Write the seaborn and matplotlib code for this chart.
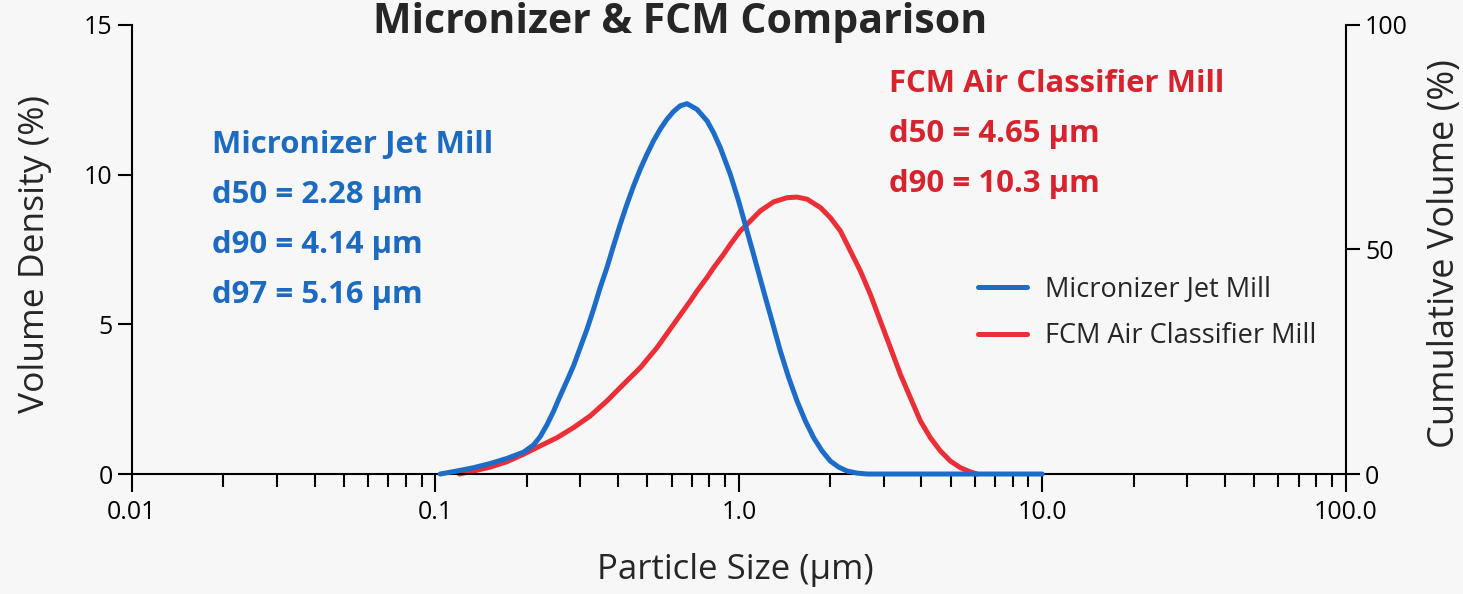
import numpy as np
import seaborn as sns
import matplotlib.pyplot as plt
from matplotlib.ticker import LogLocator, NullFormatter

# particle size (um) and volume density (%)
jet_size = [0.1037, 0.1177, 0.1335, 0.1515, 0.1720, 0.1952, 0.2106, 0.2216, 0.2331, 0.2450,
            0.2578, 0.2713, 0.2852, 0.3001, 0.3158, 0.3320, 0.3493, 0.3675, 0.3864, 0.4066,
            0.4278, 0.4498, 0.4733, 0.4980, 0.5236, 0.5509, 0.5796, 0.6095, 0.6412, 0.6747,
            0.7280, 0.7853, 0.8259, 0.8690, 0.9375, 0.9985, 1.0642, 1.1335, 1.2071, 1.2865,
            1.3703, 1.4599, 1.5556, 1.6570, 1.7651, 1.8812, 2.0040, 2.1339, 2.2743, 2.4537,
            2.6474, 10.0]
jet_density = [0.0, 0.10, 0.21, 0.35, 0.52, 0.73, 0.97, 1.25, 1.64, 2.09,
               2.61, 3.11, 3.61, 4.22, 4.83, 5.50, 6.23, 6.89, 7.62, 8.34,
               9.01, 9.62, 10.18, 10.68, 11.13, 11.52, 11.85, 12.11, 12.30, 12.37,
               12.18, 11.80, 11.40, 10.90, 10.01, 9.12, 8.12, 7.12, 6.11, 5.11,
               4.11, 3.22, 2.44, 1.77, 1.21, 0.77, 0.43, 0.23, 0.10, 0.03,
               0.0, 0.0]

fcm_size = [0.1200, 0.1335, 0.1515, 0.1720, 0.1952, 0.2216, 0.2514, 0.2852, 0.3238, 0.3675,
            0.4170, 0.4733, 0.5373, 0.6095, 0.6920, 0.7280, 0.7853, 0.8259, 0.8910, 0.9375,
            1.0115, 1.0642, 1.1773, 1.3023, 1.4423, 1.5556, 1.6786, 1.8571, 2.0040, 2.1613,
            2.3323, 2.5157, 2.7136, 2.9270, 3.1594, 3.4080, 3.6761, 3.9676, 4.2800, 4.6168,
            4.9832, 5.3760, 5.7994, 6.1023]
fcm_density = [0.0, 0.10, 0.23, 0.41, 0.66, 0.94, 1.21, 1.55, 1.94, 2.44,
               3.00, 3.55, 4.22, 5.00, 5.78, 6.11, 6.56, 6.89, 7.34, 7.67,
               8.12, 8.34, 8.79, 9.09, 9.23, 9.25, 9.18, 8.90, 8.56, 8.12,
               7.45, 6.78, 6.00, 5.11, 4.22, 3.33, 2.55, 1.77, 1.21, 0.77,
               0.43, 0.21, 0.07, 0.0]

x_ticks = [0.01, 0.1, 1, 10, 100]
x_ticklabels = ['0.01', '0.1', '1.0', '10.0', '100.0']
left_ticks = [0, 5, 10, 15]
right_ticks = [0, 50, 100]

jet_stats = ['Micronizer Jet Mill', 'd50 = 2.28 µm', 'd90 = 4.14 µm', 'd97 = 5.16 µm']
fcm_stats = ['FCM Air Classifier Mill', 'd50 = 4.65 µm', 'd90 = 10.3 µm']

blue = '#1c6cc8'
red = '#ec2f37'
blue_txt = '#1d6bc0'
red_txt = '#d6232e'
bg = '#f7f7f7'

sns.set_theme(style='ticks')
plt.rcParams['font.family'] = ['Open Sans', 'DejaVu Sans']

fig = plt.figure(figsize=(14.63, 5.94), dpi=100, facecolor=bg)
ax = fig.add_axes([0.0902, 0.202, 0.8296, 0.756])
ax.set_facecolor(bg)

sns.lineplot(x=jet_size, y=jet_density, ax=ax, color=blue, lw=3.6,
             label='Micronizer Jet Mill', zorder=3, clip_on=False,
             solid_joinstyle='round')
sns.lineplot(x=fcm_size, y=fcm_density, ax=ax, color=red, lw=3.6,
             label='FCM Air Classifier Mill', zorder=2, clip_on=False,
             solid_joinstyle='round')

ax.set_xscale('log')
ax.set_xlim(0.01, 100)
ax.set_ylim(0, 15)
ax.set_xticks(x_ticks, x_ticklabels)
ax.xaxis.set_minor_locator(LogLocator(base=10, subs=np.arange(2, 10)))
ax.xaxis.set_minor_formatter(NullFormatter())
ax.set_yticks(left_ticks)

for side in ['top', 'right']:
    ax.spines[side].set_visible(False)
for side in ['left', 'bottom']:
    ax.spines[side].set_linewidth(1.5)
    ax.spines[side].set_color('black')

ax.tick_params(axis='x', which='major', length=13, width=1.5, colors='black',
               labelsize=18, pad=6)
ax.tick_params(axis='x', which='minor', length=9, width=1.5, colors='black')
ax.tick_params(axis='y', length=10, width=1.5, colors='black', labelsize=18, pad=4)

ax.set_xlabel('Particle Size (µm)', fontsize=25)
ax.set_ylabel('Volume Density (%)', fontsize=25.5)
ax.xaxis.set_label_coords(0.497, -0.176)
ax.yaxis.set_label_coords(-0.066, 0.489)

ax2 = ax.twinx()
ax2.set_ylim(0, 100)
ax2.set_yticks(right_ticks)
for side in ['top', 'left', 'bottom']:
    ax2.spines[side].set_visible(False)
ax2.spines['right'].set_linewidth(1.5)
ax2.spines['right'].set_color('black')
ax2.tick_params(axis='y', length=10, width=1.5, colors='black', labelsize=18, pad=4)
ax2.set_ylabel('Cumulative Volume (%)', fontsize=26)
ax2.yaxis.set_label_coords(1.067, 0.491)

step = 50 / 449
for i, s in enumerate(jet_stats):
    ax.text(0.066, 0.715 - i * step, s, transform=ax.transAxes, color=blue_txt,
            fontsize=22.4, fontweight='bold', va='baseline')
for i, s in enumerate(fcm_stats):
    ax.text(0.624, 0.851 - i * step, s, transform=ax.transAxes, color=red_txt,
            fontsize=22.4, fontweight='bold', va='baseline')

ax.legend(loc='upper left', bbox_to_anchor=(0.686, 0.473), frameon=False,
          fontsize=19.5, handlelength=1.8, handletextpad=0.66, labelspacing=0.70,
          borderpad=0)

# title sits right at the top edge, kept fully inside the figure
fig.text(0.465, 1 - 33 / 594, 'Micronizer & FCM Comparison', ha='center',
         va='baseline', fontsize=29.5, fontweight='bold')

fig.savefig('out.png', dpi=100, facecolor=bg)
